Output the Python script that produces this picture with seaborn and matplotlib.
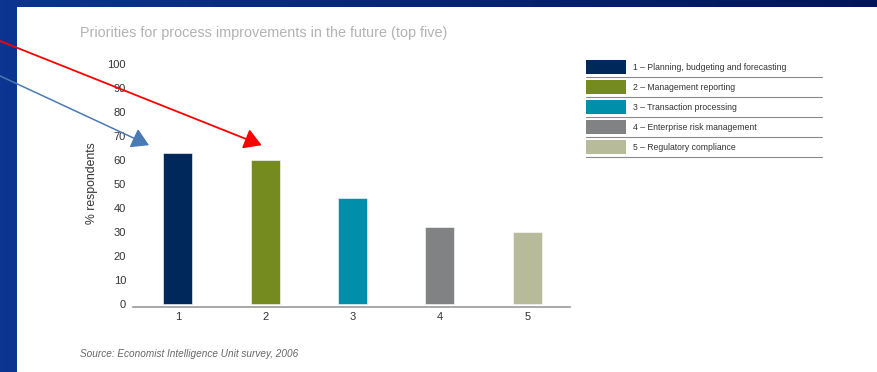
import numpy as np
import matplotlib
matplotlib.use("Agg")
import matplotlib.pyplot as plt
from matplotlib.patches import Rectangle
from matplotlib.colors import LinearSegmentedColormap
import seaborn as sns

# Survey data: share of respondents naming each process as a top-five priority
categories = ["1", "2", "3", "4", "5"]
values = [63, 60, 44, 32, 30]
legend_labels = [
    "1 \u2013 Planning, budgeting and forecasting",
    "2 \u2013 Management reporting",
    "3 \u2013 Transaction processing",
    "4 \u2013 Enterprise risk management",
    "5 \u2013 Regulatory compliance",
]
bar_colors = ["#00285a", "#768b1f", "#008fab", "#818284", "#b7bb9a"]
yticks = [0, 10, 20, 30, 40, 50, 60, 70, 80, 90, 100]

sns.set_theme(style="white")
plt.rcParams["font.family"] = ["Liberation Sans", "DejaVu Sans"]

W, H = 878, 372
fig = plt.figure(figsize=(W / 100, H / 100), dpi=100)

# Slide background: blue gradient frame with a white content panel
bg = fig.add_axes([0, 0, 1, 1], zorder=0)
bg.set_xlim(0, W)
bg.set_ylim(H, 0)
bg.axis("off")
grad = np.linspace(0, 1, 256)[None, :]
cmap = LinearSegmentedColormap.from_list("frame", ["#0b3590", "#03145c"])
bg.imshow(grad, cmap=cmap, extent=[0, W, H, 0], aspect="auto")
bg.add_patch(Rectangle((17, 7), W - 17, H - 7, facecolor="white", edgecolor="none"))

# Legend block drawn as swatches with rules underneath
for i, (lab, col) in enumerate(zip(legend_labels, bar_colors)):
    y0 = 60 + 20 * i
    bg.add_patch(Rectangle((586, y0), 40, 14, facecolor=col, edgecolor="none"))
    bg.plot([586, 822], [y0 + 16.5, y0 + 16.5], color="#8a8a8a", lw=0.8)
    bg.text(633, y0 + 7.5, lab, fontsize=6.2, color="#333333", va="center",
            ha="left")

bg.text(80, 33, "Priorities for process improvements in the future (top five)",
        fontsize=10.4, color="#b3b3b3", va="center", ha="left")
bg.text(80, 354, "Source: Economist Intelligence Unit survey, 2006",
        fontsize=7.2, color="#666666", style="italic", va="center", ha="left")
bg.text(92, 183, "% respondents", fontsize=8.8, color="#333333", rotation=90,
        va="center", ha="center")

# Bar chart
left, right = 133 / W, 570 / W
bottom, top = (H - 306.7) / H, (H - 64.2) / H
ax = fig.add_axes([left, bottom, right - left, top - bottom], zorder=2)
ax.patch.set_alpha(0)
sns.barplot(x=categories, y=values, hue=categories, palette=bar_colors,
            width=0.33, legend=False, ax=ax, saturation=1,
            edgecolor="white", linewidth=0.4)
ax.set_xlim(-0.513, 4.49)
ax.set_ylim(-1.2, 100)
ax.set_yticks(yticks)
ax.set_yticklabels([str(t) for t in yticks])
ax.set_xlabel("")
ax.set_ylabel("")
for s in ["top", "right", "left"]:
    ax.spines[s].set_visible(False)
ax.spines["bottom"].set_color("#9a9a9a")
ax.spines["bottom"].set_linewidth(1.2)
ax.tick_params(axis="both", length=0, labelsize=8, colors="#333333")
ax.tick_params(axis="y", pad=5)
ax.tick_params(axis="x", pad=3.5)

# Pointer arrows toward the two leading priorities
def pointer(tip, start_px, color, lw):
    ax.annotate("", xy=tip, xycoords="data",
                xytext=(start_px[0], H - start_px[1]), textcoords="figure pixels",
                arrowprops=dict(arrowstyle="-|>,head_length=0.7,head_width=0.42",
                                mutation_scale=15, color=color, lw=lw,
                                shrinkA=0, shrinkB=0),
                annotation_clip=False, zorder=10)

pointer((-0.33, 66.2), (-5, 73.6), "#4a7ab4", 1.1)
pointer((0.96, 66.2), (-5, 39.0), "#ff0000", 1.3)

fig.savefig("out.png", dpi=100)
